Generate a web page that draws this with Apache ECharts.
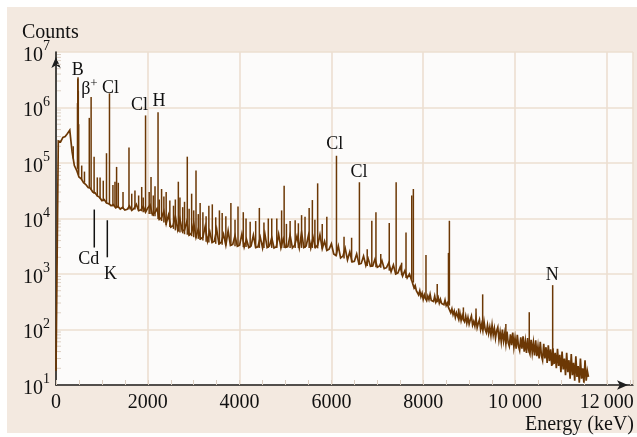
<!DOCTYPE html>
<html>
<head>
<meta charset="utf-8">
<script src="https://cdn.jsdelivr.net/npm/echarts@6/dist/echarts.min.js"></script>
<style>
  html, body { margin: 0; padding: 0; background: #ffffff; }
  #wrap { position: relative; width: 637px; height: 437px; background: #ffffff; overflow: hidden; }
  #panel { position: absolute; left: 7px; top: 7px; width: 630px; height: 426px; background: #f3e9e0; }
  #chart { position: absolute; left: 0; top: 0; width: 637px; height: 437px; }
</style>
</head>
<body>
<div id="wrap"><div id="panel"></div><div id="chart"></div></div>
<script>
// Gamma-ray spectrum: counts per channel versus energy (keV), log scale.

// Continuum below 7800 keV, one value every STEP keV starting at 0 keV
const STEP = 50;
const continuum = [
  18, 250000, 240000, 290000, 300000, 340000, 390000, 160000, 90000, 74000,
  56000, 52000, 44000, 41000, 36000, 35000, 30000, 29000, 25500, 24000,
  21000, 22000, 19000, 18500, 17000, 17800, 15500, 16500,
  14800, 15800, 14200, 14600, 16800, 14000, 15200, 18000, 13800, 14300,
  16500, 13000, 15500, 17500, 11800, 12600, 15000, 9600, 10400, 13500,
  8000, 11500, 7000, 7400, 11000, 6300, 9800, 6000, 6200, 8800,
  5000, 5400, 8200, 4600, 6500, 4300, 4600, 7200, 3900, 5800,
  3700, 3900, 6400, 3500, 3700, 5200, 3300, 6000, 3250, 3400,
  4900, 3150, 3300, 5300, 3050, 4200, 3000, 3200, 5000, 3000,
  3100, 4600, 2950, 5300, 3000, 3200, 4500, 2950, 3100, 5200,
  2950, 4300, 3000, 3100, 5000, 2950, 3300, 4800, 2950, 5600,
  3000, 3200, 5000, 2950, 4600, 3000, 3300, 5100, 2850, 3900,
  2650, 2800, 3500, 2300, 2150, 3200, 1950, 2100, 2900, 1800,
  2500, 1650, 1700, 2300, 1500, 1550, 2100, 1420, 1900, 1380,
  1400, 1850, 1320, 1400, 1750, 1250, 1300, 1600, 1100, 1450,
  1000, 1050, 1350, 920, 1150, 850, 1000, 760
];

// Continuum from 7800 keV on, one value every TAIL_STEP keV
const TAIL_START = 7800;
const TAIL_STEP = 25;
const tail = [
  560, 620, 500, 470, 420, 500, 390, 450, 350, 420,
  360, 330, 400, 345, 430, 335, 360, 320, 400, 310,
  330, 380, 300, 350, 295, 320, 280, 340, 270, 300,
  250, 260, 200, 235, 185, 215, 165, 200, 175, 150,
  195, 145, 180, 150, 138, 175, 130, 165, 125, 150,
  175, 120, 140, 115, 160, 108, 130, 150, 100, 125,
  95, 140, 100, 88, 120, 85, 110, 78, 120, 80,
  105, 70, 95, 110, 65, 90, 60, 100, 62, 85,
  55, 92, 58, 50, 82, 52, 88, 48, 70, 45,
  80, 50, 42, 72, 45, 75, 40, 62, 38, 70,
  42, 36, 65, 38, 58, 34, 64, 33, 50, 30,
  60, 34, 28, 55, 30, 48, 25, 52, 27, 44,
  22, 46, 24, 38, 20, 45, 22, 35, 17, 40,
  19, 30, 15, 38, 17, 28, 13, 36, 15, 25,
  12, 33, 14, 22, 11, 30, 13, 20, 11, 28,
  12, 18, 14
];

// Lines: [energy keV, counts at foot, counts at top]
const peaks = [
  [375, 120000, 200000],
  [468, 80000, 1200000], [474, 80000, 3300000], [480, 80000, 3500000], [486, 70000, 2000000], [494, 60000, 500000],
  [560, 50000, 90000], [620, 44000, 70000],
  [725, 36000, 650000], [765, 33000, 1550000], [830, 28000, 130000],
  [900, 25000, 55000], [960, 23000, 55000], [1030, 20500, 48000],
  [1100, 19000, 150000], [1165, 17500, 1800000], [1240, 16500, 40000],
  [1285, 16000, 46000], [1320, 15500, 85000], [1357, 16000, 44000],
  [1460, 15000, 30000], [1590, 14500, 190000], [1650, 14500, 28000],
  [1720, 14500, 32000], [1800, 13800, 26000], [1867, 13500, 37000],
  [1900, 13000, 24000], [1951, 13000, 720000], [2030, 12000, 30000],
  [2070, 12000, 56000], [2120, 11000, 26000], [2157, 11000, 38000],
  [2223, 9800, 820000], [2250, 9500, 22000], [2300, 9000, 34000],
  [2350, 8500, 25000], [2400, 7600, 30000], [2480, 7000, 21000],
  [2560, 6500, 17000], [2600, 6100, 22000], [2665, 5800, 46000],
  [2700, 5600, 24000], [2760, 5400, 16000], [2800, 5200, 20000],
  [2860, 5100, 130000], [2900, 4900, 15000], [2955, 4800, 28000],
  [3000, 4600, 14000], [3050, 4400, 73000], [3100, 4300, 12000],
  [3140, 4100, 19000], [3200, 4000, 13000], [3270, 3800, 11000],
  [3330, 3700, 17000], [3405, 3600, 18000], [3480, 3500, 10500],
  [3560, 3400, 14000], [3620, 3350, 12500], [3700, 3250, 11000],
  [3810, 3200, 19000], [3900, 3150, 9500], [3965, 3150, 16500],
  [4080, 3050, 13000], [4140, 3050, 10000], [4230, 3000, 8700],
  [4350, 3000, 9000], [4430, 2950, 15500], [4530, 2950, 8500],
  [4625, 2950, 10000], [4700, 2950, 10000], [4810, 2950, 10000],
  [4915, 2950, 14000], [4970, 2950, 39000], [5020, 2950, 8000],
  [5100, 2950, 9000], [5210, 2950, 9300], [5280, 2950, 8200],
  [5350, 2950, 11500], [5425, 2950, 10700], [5515, 2950, 15500],
  [5585, 2950, 21500], [5640, 2950, 9500], [5700, 2900, 43000],
  [5800, 2850, 8000], [5900, 2650, 10700],
  [6110, 2150, 135000], [6275, 1900, 4700], [6440, 1650, 4500],
  [6610, 1500, 45000], [6780, 1400, 2800], [6880, 1350, 9100],
  [6970, 1320, 13000], [7075, 1300, 2300], [7260, 1150, 8300],
  [7410, 1000, 45000], [7530, 950, 1600], [7625, 850, 5600],
  [7750, 800, 26000], [7785, 700, 34000],
  [8060, 350, 2200], [8305, 310, 660], [8550, 280, 2400], [8570, 270, 9100],
  [8770, 160, 240], [8875, 145, 250], [9150, 120, 240], [9295, 100, 430],
  [9800, 55, 125], [10310, 38, 205], [10820, 23, 630]
];

// Element labels placed at [energy, counts]
const peakLabels = [
  { text: 'B', e: 473, c: 4.6e6 },
  { text: 'β', sup: '+', e: 728, c: 2.15e6 },
  { text: 'Cl', e: 1185, c: 2.2e6 },
  { text: 'Cl', e: 1820, c: 1.12e6 },
  { text: 'H', e: 2245, c: 1.3e6 },
  { text: 'Cl', e: 6070, c: 2.2e5 },
  { text: 'Cl', e: 6600, c: 6.9e4 },
  { text: 'N', e: 10810, c: 960 },
  { text: 'Cd', e: 715, c: 1860 },
  { text: 'K', e: 1187, c: 1000 }
];

// Marker strokes under Cd and K: [energy, counts top, counts bottom]
const markerLines = [
  [834, 14500, 3000],
  [1118, 9300, 2000]
];

const xTicks = [0, 2000, 4000, 6000, 8000, 10000, 12000];
const yDecades = [10, 100, 1000, 10000, 100000, 1000000, 10000000];

const FONT = '"Liberation Serif", "Times New Roman", serif';
const TRACE = '#6c3805';
const GRID = '#ecdfd1';
const TICK = '#dccfc2';
const AXIS = '#1e1e1e';

const chart = echarts.init(document.getElementById('chart'), null, { renderer: 'canvas' });

const lineData = continuum.map((v, i) => [i * STEP, v])
  .concat(tail.map((v, i) => [TAIL_START + i * TAIL_STEP, v]));

function fmtX(v) {
  if (xTicks.indexOf(v) < 0) return '';
  const s = String(v);
  return s.length > 4 ? s.slice(0, s.length - 3) + '\u2009' + s.slice(-3) : s;
}

const option = {
  backgroundColor: 'transparent',
  animation: false,
  grid: {
    left: 56, right: 4, top: 52, bottom: 52,
    show: true, backgroundColor: '#fcfbfa', borderWidth: 0
  },
  xAxis: {
    type: 'value',
    min: 0, max: 12570, interval: 2000,
    axisLine: { show: true, lineStyle: { color: AXIS, width: 1.6 },
      symbol: ['none', 'arrow'], symbolSize: [7, 11], symbolOffset: [0, -5] },
    axisTick: { show: true, inside: true, length: 5, lineStyle: { color: TICK, width: 1 } },
    minorTick: { show: true, splitNumber: 4, length: 5, lineStyle: { color: TICK, width: 1 } },
    splitLine: { show: true, lineStyle: { color: GRID, width: 1.6 } },
    axisLabel: { show: true, showMaxLabel: false, margin: 8, color: '#111', fontFamily: FONT, fontSize: 20, formatter: fmtX }
  },
  yAxis: {
    type: 'log', logBase: 10, min: yDecades[0], max: yDecades[yDecades.length - 1],
    axisLine: { show: true, lineStyle: { color: AXIS, width: 1.6 },
      symbol: ['none', 'arrow'], symbolSize: [7, 11], symbolOffset: [0, -5] },
    axisTick: { show: false },
    splitLine: { show: true, lineStyle: { color: GRID, width: 1.6 } },
    axisLabel: {
      margin: 6, color: '#111', fontFamily: FONT, padding: [7, 0, 0, 0],
      formatter: function (v) {
        const p = Math.round(Math.log10(v));
        return '{b|10}{s|' + p + '}';
      },
      rich: {
        b: { fontFamily: FONT, fontSize: 20, lineHeight: 32, color: '#111' },
        s: { fontFamily: FONT, fontSize: 14, lineHeight: 14, verticalAlign: 'top', color: '#111' }
      }
    }
  },
  series: [
    {
      type: 'line', data: lineData, showSymbol: false, symbol: 'none',
      lineStyle: { color: TRACE, width: 1.7, join: 'miter' }, z: 3, clip: true
    },
    {
      type: 'custom', data: peaks, z: 4, clip: true,
      encode: { x: 0, y: [1, 2] },
      renderItem: function (params, api) {
        const a = api.coord([api.value(0), api.value(1)]);
        const b = api.coord([api.value(0), api.value(2)]);
        return { type: 'line', shape: { x1: a[0], y1: a[1], x2: b[0], y2: b[1] },
                 style: { stroke: TRACE, lineWidth: 1.5 } };
      }
    }
  ]
};

chart.setOption(option);

// Annotation layer: axis titles, element labels, marker strokes, log minor ticks
const g = [];
g.push({ type: 'text', left: 22, top: 23, z: 10,
  style: { text: 'Counts', font: '20px ' + FONT, fill: '#111' } });
g.push({ type: 'text', right: 3, top: 415, z: 10,
  style: { text: 'Energy (keV)', font: '20px ' + FONT, fill: '#111' } });

peakLabels.forEach(function (l) {
  const p = chart.convertToPixel({ gridIndex: 0 }, [l.e, l.c]);
  const txt = l.sup ? '{a|' + l.text + '}{s|' + l.sup + '}' : '{a|' + l.text + '}';
  g.push({ type: 'text', x: p[0], y: p[1], z: 10,
    style: { text: txt, align: 'center', verticalAlign: 'middle',
      rich: {
        a: { fontFamily: FONT, fontSize: 18, lineHeight: 24, fill: '#111' },
        s: { fontFamily: FONT, fontSize: 13, lineHeight: 13, verticalAlign: 'top', fill: '#111' }
      } } });
});

markerLines.forEach(function (m) {
  const a = chart.convertToPixel({ gridIndex: 0 }, [m[0], m[1]]);
  const b = chart.convertToPixel({ gridIndex: 0 }, [m[0], m[2]]);
  g.push({ type: 'line', z: 10, shape: { x1: a[0], y1: a[1], x2: b[0], y2: b[1] },
    style: { stroke: '#111', lineWidth: 1.5 } });
});

for (let d = 0; d < yDecades.length - 1; d++) {
  for (let m = 2; m <= 9; m++) {
    const p = chart.convertToPixel({ gridIndex: 0 }, [0, yDecades[d] * m]);
    g.push({ type: 'line', z: 2, shape: { x1: p[0] + 1, y1: p[1], x2: p[0] + 5, y2: p[1] },
      style: { stroke: TICK, lineWidth: 1 } });
  }
}

chart.setOption({ graphic: g });
</script>
</body>
</html>
